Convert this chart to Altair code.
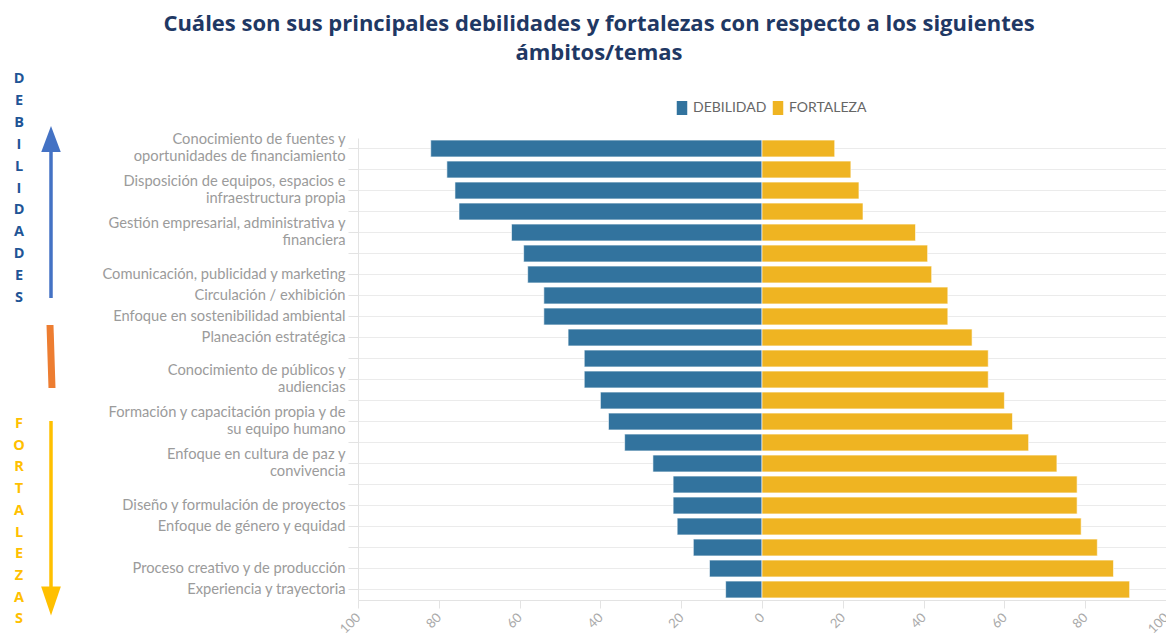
import json
import altair as alt
import pandas as pd

# ---------------- data ----------------
temas = [
    "Conocimiento de fuentes y\noportunidades de financiamiento",
    "",
    "Disposición de equipos, espacios e\ninfraestructura propia",
    "",
    "Gestión empresarial, administrativa y\nfinanciera",
    "",
    "Comunicación, publicidad y marketing",
    "Circulación / exhibición",
    "Enfoque en sostenibilidad ambiental",
    "Planeación estratégica",
    "",
    "Conocimiento de públicos y\naudiencias",
    "",
    "Formación y capacitación propia y de\nsu equipo humano",
    "",
    "Enfoque en cultura de paz y\nconvivencia",
    "",
    "Diseño y formulación de proyectos",
    "Enfoque de género y equidad",
    "",
    "Proceso creativo y de producción",
    "Experiencia y trayectoria",
]
debilidad = [82, 78, 76, 75, 62, 59, 58, 54, 54, 48, 44, 44, 40, 38, 34, 27, 22, 22, 21, 17, 13, 9]
fortaleza = [18, 22, 24, 25, 38, 41, 42, 46, 46, 52, 56, 56, 60, 62, 66, 73, 78, 78, 79, 83, 87, 91]
series = ["DEBILIDAD", "FORTALEZA"]
colores = ["#32739e", "#efb422"]
ticks_x = [-100, -80, -60, -40, -20, 0, 20, 40, 60, 80, 100]

titulo = ["Cuáles son sus principales debilidades y fortalezas con respecto a los siguientes",
          "ámbitos/temas"]
letras_deb = list("DEBILIDADES")
letras_fort = list("FORTALEZAS")

# ---------------- table ----------------
rows = []
for i in range(len(temas)):
    rows.append({"fila": i, "serie": series[0], "valor": -debilidad[i]})
    rows.append({"fila": i, "serie": series[1], "valor": fortaleza[i]})
df = pd.DataFrame(rows)

LINE_H = 17
label_lines = [t.split("\n") for t in temas]
label_expr = json.dumps(label_lines, ensure_ascii=False) + "[datum.value]"
multi = [i for i, t in enumerate(temas) if "\n" in t]
label_offset = {"condition": {"test": "indexof(%s, datum.value) >= 0" % json.dumps(multi),
                              "value": -LINE_H / 2},
                "value": 0}

FONT = "Lato"
GRID = "#ebebeb"

bars = alt.Chart(df).mark_bar(stroke="white", strokeWidth=1, strokeOpacity=0.6).encode(
    x=alt.X("valor:Q",
            scale=alt.Scale(domain=[-100, 100], nice=False),
            axis=alt.Axis(values=ticks_x, labelExpr="abs(datum.value)", title=None,
                          grid=False, domain=True, domainColor="#e3e3e3",
                          ticks=True, tickColor="#e3e3e3", tickSize=8,
                          labelAngle=315, labelAlign="right", labelBaseline="middle",
                          labelPadding=7, labelFont=FONT, labelFontSize=13,
                          labelColor="#aaaaaa")),
    y=alt.Y("fila:O",
            scale=alt.Scale(paddingInner=0.2, paddingOuter=0.1),
            axis=alt.Axis(title=None, labelExpr=label_expr, labelOverlap=False,
                          bandPosition=0.5, grid=True, gridColor=GRID,
                          domain=True, domainColor="#e3e3e3",
                          ticks=True, tickColor="#e3e3e3", tickSize=10,
                          labelPadding=3, labelFont=FONT, labelFontSize=14.7,
                          labelColor="#9b9b9b", labelLimit=400, labelLineHeight=LINE_H,
                          labelOffset=label_offset)),
    color=alt.Color("serie:N",
                    scale=alt.Scale(domain=series, range=colores),
                    legend=alt.Legend(title=None, orient="none", legendX=317, legendY=-37,
                                      direction="horizontal",
                                      symbolType="M-0.75,-1H0.75V1H-0.75Z",
                                      symbolSize=196, symbolStrokeWidth=0, symbolOpacity=1,
                                      labelFont=FONT, labelFontSize=14, labelColor="#666666",
                                      labelOffset=4, columnPadding=4)),
)

dummy = pd.DataFrame({"k": [0]})

txt_deb = alt.Chart(dummy).mark_text(
    lineBreak="\n", lineHeight=21.9, font="Open Sans", fontWeight="bold", fontSize=14.5,
    color="#1f5596", baseline="top", align="center"
).encode(x=alt.value(-339), y=alt.value(-66), text=alt.value("\n".join(letras_deb)))

txt_fort = alt.Chart(dummy).mark_text(
    lineBreak="\n", lineHeight=21.7, font="Open Sans", fontWeight="bold", fontSize=14.5,
    color="#ffc000", baseline="top", align="center"
).encode(x=alt.value(-339), y=alt.value(279), text=alt.value("\n".join(letras_fort)))

shaft_up = alt.Chart(dummy).mark_rule(strokeWidth=3.5, color="#4472c4").encode(
    x=alt.value(-307), y=alt.value(12), y2=alt.value(160))
head_up = alt.Chart(dummy).mark_point(shape="M-0.75,1L0.75,1L0,-1Z", size=676, filled=True,
                                      opacity=1, color="#4472c4").encode(
    x=alt.value(-307), y=alt.value(1))

orange = alt.Chart(dummy).mark_rule(strokeWidth=7, color="#ed7d31").encode(
    x=alt.value(-308), x2=alt.value(-306), y=alt.value(187), y2=alt.value(250))

shaft_down = alt.Chart(dummy).mark_rule(strokeWidth=3.5, color="#ffc000").encode(
    x=alt.value(-307), y=alt.value(283), y2=alt.value(452))
head_down = alt.Chart(dummy).mark_point(shape="M-0.68,-1L0.68,-1L0,1Z", size=841, filled=True,
                                        opacity=1, color="#ffc000").encode(
    x=alt.value(-307), y=alt.value(463))

chart = alt.layer(bars, txt_deb, txt_fort, shaft_up, head_up, orange, shaft_down, head_down).properties(
    width=808, height=462,
    padding={"left": 350, "top": 130, "right": 0, "bottom": 40},
    autosize=alt.AutoSizeParams(type="none"),
    title=alt.Title(titulo, font="Open Sans", fontSize=22, fontWeight="bold", color="#1f3864",
                    anchor="middle", frame="group", dx=-163, dy=-2, lineHeight=29),
).configure_view(stroke=None)

chart.save("out.html", embed_options={"renderer": "svg", "actions": False})
